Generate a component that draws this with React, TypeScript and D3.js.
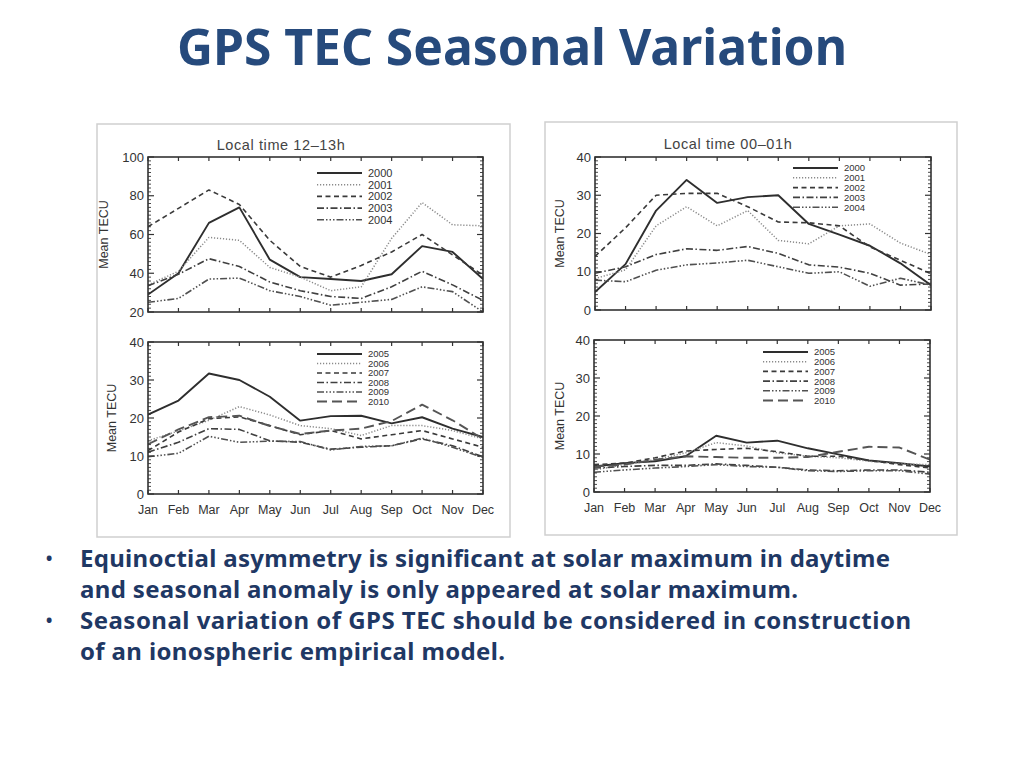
import React from "react";
import * as d3 from "d3";

const months = ["Jan", "Feb", "Mar", "Apr", "May", "Jun", "Jul", "Aug", "Sep", "Oct", "Nov", "Dec"];
const yearsMax = ["2000", "2001", "2002", "2003", "2004"];
const yearsMin = ["2005", "2006", "2007", "2008", "2009", "2010"];

// Local time 12-13h, 2000-2004
const day2000 = [29, 40, 66, 74, 47, 38, 37, 36, 39.5, 54, 51, 37];
const day2001 = [34, 41, 58.5, 57, 43, 38, 31, 33, 58, 76.5, 65, 64.5];
const day2002 = [64, 73.5, 83, 75.5, 57, 43.5, 38, 44, 51, 60, 49.5, 39];
const day2003 = [33.5, 39.5, 47.5, 43.5, 35.5, 31, 28, 27, 33, 41, 34, 26];
const day2004 = [25, 27, 37, 37.5, 31, 28, 23.5, 25, 26.5, 33, 30.5, 20];

// Local time 00-01h, 2000-2004
const night2000 = [4.7, 12, 26, 34, 28, 29.5, 30, 22.5, 19.7, 16.8, 12.2, 6.5];
const night2001 = [8.2, 10.5, 22, 27, 22, 26, 18.2, 17.3, 22, 22.5, 17.5, 14.5];
const night2002 = [14, 21.5, 30, 30.5, 30.5, 27, 23, 22.8, 22, 16.5, 13, 9.5];
const night2003 = [9.6, 11.3, 14.5, 16, 15.6, 16.6, 14.8, 11.8, 11.2, 9.6, 6.5, 6.8];
const night2004 = [7.8, 7.4, 10.4, 11.8, 12.3, 13, 11.3, 9.6, 10, 6.2, 8.3, 6.5];

// Local time 12-13h, 2005-2010
const dayMin2005 = [20.9, 24.6, 31.7, 30, 25.6, 19.3, 20.5, 20.6, 18.6, 20.2, 17.2, 15];
const dayMin2006 = [14, 16.6, 19.4, 23, 20.8, 18, 17.2, 15.4, 18, 18, 16.7, 14.5];
const dayMin2007 = [11.4, 16.3, 19.8, 20.3, 18, 15.6, 16.7, 14.5, 15.6, 16.7, 14.5, 12.3];
const dayMin2008 = [11, 13.6, 17.2, 17, 14, 13.6, 11.8, 12.3, 12.7, 14.5, 12.7, 9.8];
const dayMin2009 = [9.8, 10.7, 15.2, 13.6, 13.9, 13.8, 11.6, 12.5, 12.7, 14.7, 12.3, 9.6];
const dayMin2010 = [13.1, 17, 20.2, 20.6, 17.9, 15.8, 16.7, 17.2, 19.2, 23.5, 19.4, 14.5];

// Local time 00-01h, 2005-2010
const nightMin2005 = [6.7, 7.6, 8.1, 9.4, 14.8, 13, 13.5, 11.5, 9.9, 8.3, 7.6, 6.7];
const nightMin2006 = [5.8, 7.2, 8.5, 10.3, 13, 12.1, 10.3, 9.4, 9, 8.1, 7.4, 7.2];
const nightMin2007 = [7.2, 7.6, 9, 10.8, 11.2, 11.5, 10.6, 9.4, 9.4, 8.3, 7.2, 6.3];
const nightMin2008 = [6.3, 6.7, 7, 7, 7.4, 7, 6.5, 5.8, 5.6, 5.8, 5.8, 5.2];
const nightMin2009 = [5.2, 5.8, 6.3, 6.7, 7.2, 6.7, 6.5, 5.6, 5.4, 5.6, 5.6, 4.7];
const nightMin2010 = [6.7, 7.2, 8.5, 9.4, 9.2, 9, 9, 9.2, 10.6, 11.9, 11.7, 8.5];

const titleText = "GPS TEC Seasonal Variation";
const bulletLines = [
  { bullet: true, text: "Equinoctial asymmetry is significant at solar maximum in daytime" },
  { bullet: false, text: "and seasonal anomaly is only appeared at solar maximum." },
  { bullet: true, text: "Seasonal variation of GPS TEC should be considered in construction" },
  { bullet: false, text: "of an ionospheric empirical model." },
];
const bulletWidths = [810, 718, 831, 425];

const lineStyles = [
  { dash: "none", color: "#2e2e2e", width: 1.9 },
  { dash: "1.2,1.8", color: "#8a8a8a", width: 1.5 },
  { dash: "5,3.5", color: "#3a3a3a", width: 1.6 },
  { dash: "7,2.5,1.5,2.5", color: "#404040", width: 1.6 },
  { dash: "7,2,1.5,2,1.5,2,1.5,2", color: "#505050", width: 1.6 },
  { dash: "10,5", color: "#555555", width: 1.9 },
];

const plotFont = "'Liberation Sans', Arial, sans-serif";
const axisColor = "#333";

type PanelProps = {
  x0: number; x1: number; yt: number; yb: number;
  domain: [number, number]; major: number; minor: number;
  series: number[][]; years: string[];
  title?: string; titleX?: number; titleY?: number;
  showMonths: boolean;
  legendX: number; legendY: number; legendStep: number; legendFont: number;
  yLabelX: number;
};

function Panel(p: PanelProps) {
  const x = d3.scalePoint<string>().domain(months).range([p.x0, p.x1]);
  const y = d3.scaleLinear().domain(p.domain).range([p.yb, p.yt]);
  const line = d3
    .line<number>()
    .x((_, i) => x(months[i]) as number)
    .y((d) => y(d));
  const majors = d3.range(p.domain[0], p.domain[1] + 0.001, p.major);
  const minors = d3.range(p.domain[0], p.domain[1] + 0.001, p.minor).filter((v) => !majors.includes(v));
  return (
    <g>
      {p.title && (
        <text x={p.titleX} y={p.titleY} textAnchor="middle" fontFamily={plotFont} fontSize={14.5} fill="#444" letterSpacing={0.6}>
          {p.title}
        </text>
      )}
      <clipPath id={`clip-${p.x0}-${p.yt}`}>
        <rect x={p.x0} y={p.yt} width={p.x1 - p.x0} height={p.yb - p.yt} />
      </clipPath>
      <g clipPath={`url(#clip-${p.x0}-${p.yt})`}>
        {p.series.map((s, i) => (
          <path
            key={i}
            d={line(s) || ""}
            fill="none"
            stroke={lineStyles[i].color}
            strokeWidth={lineStyles[i].width}
            strokeDasharray={lineStyles[i].dash}
            strokeLinejoin="round"
          />
        ))}
      </g>
      <rect x={p.x0} y={p.yt} width={p.x1 - p.x0} height={p.yb - p.yt} fill="none" stroke={axisColor} strokeWidth={1.6} />
      {majors.map((v) => (
        <g key={"M" + v}>
          <line x1={p.x0} x2={p.x0 + 6} y1={y(v)} y2={y(v)} stroke={axisColor} strokeWidth={1.2} />
          <line x1={p.x1} x2={p.x1 - 6} y1={y(v)} y2={y(v)} stroke={axisColor} strokeWidth={1.2} />
          <text x={p.x0 - 4} y={y(v) + 4.5} textAnchor="end" fontFamily={plotFont} fontSize={13} fill="#333">
            {v}
          </text>
        </g>
      ))}
      {minors.map((v) => (
        <g key={"m" + v}>
          <line x1={p.x0} x2={p.x0 + 3} y1={y(v)} y2={y(v)} stroke={axisColor} strokeWidth={0.9} />
          <line x1={p.x1} x2={p.x1 - 3} y1={y(v)} y2={y(v)} stroke={axisColor} strokeWidth={0.9} />
        </g>
      ))}
      {months.map((m) => (
        <g key={m}>
          <line x1={x(m)} x2={x(m)} y1={p.yb} y2={p.yb - 4} stroke={axisColor} strokeWidth={1.2} />
          <line x1={x(m)} x2={x(m)} y1={p.yt} y2={p.yt + 4} stroke={axisColor} strokeWidth={1.2} />
          {p.showMonths && (
            <text x={x(m)} y={p.yb + 20} textAnchor="middle" fontFamily={plotFont} fontSize={12.5} fill="#333">
              {m}
            </text>
          )}
        </g>
      ))}
      <text
        transform={`translate(${p.yLabelX},${(p.yt + p.yb) / 2}) rotate(-90)`}
        textAnchor="middle"
        fontFamily={plotFont}
        fontSize={12.5}
        fill="#333"
      >
        Mean TECU
      </text>
      {p.years.map((yr, i) => {
        const ly = p.legendY + i * p.legendStep;
        return (
          <g key={yr}>
            <line
              x1={p.legendX}
              x2={p.legendX + 45}
              y1={ly}
              y2={ly}
              stroke={lineStyles[i].color}
              strokeWidth={lineStyles[i].width}
              strokeDasharray={lineStyles[i].dash}
            />
            <text x={p.legendX + 51} y={ly + p.legendFont * 0.36} fontFamily={plotFont} fontSize={p.legendFont} fill="#333">
              {yr}
            </text>
          </g>
        );
      })}
    </g>
  );
}

export default function App() {
  return (
    <svg
      width={1024}
      height={768}
      viewBox="0 0 1024 768"
      style={{ position: "absolute", left: 0, top: 0, background: "#fff" }}
    >
      <rect x={0} y={0} width={1024} height={768} fill="#fff" />
      <text
        x={512}
        y={65}
        textAnchor="middle"
        fontFamily="'Noto Sans', 'Open Sans', sans-serif"
        fontWeight="bold"
        fontSize={50}
        fill="#264a7c"
        textLength={670}
        lengthAdjust="spacingAndGlyphs"
      >
        {titleText}
      </text>

      <rect x={97} y={124} width={413} height={413} fill="#fff" stroke="#cfcfcf" strokeWidth={1.5} />
      <rect x={545} y={122} width={412} height={413} fill="#fff" stroke="#cfcfcf" strokeWidth={1.5} />

      <Panel
        x0={148} x1={483} yt={157} yb={312}
        domain={[20, 100]} major={20} minor={2}
        series={[day2000, day2001, day2002, day2003, day2004]} years={yearsMax}
        title="Local time 12–13h" titleX={281} titleY={150}
        showMonths={false}
        legendX={317} legendY={173} legendStep={11.7} legendFont={11}
        yLabelX={108}
      />
      <Panel
        x0={148} x1={483} yt={342} yb={494}
        domain={[0, 40]} major={10} minor={1}
        series={[dayMin2005, dayMin2006, dayMin2007, dayMin2008, dayMin2009, dayMin2010]} years={yearsMin}
        showMonths={true}
        legendX={317} legendY={354} legendStep={9.5} legendFont={9.5}
        yLabelX={116}
      />
      <Panel
        x0={595} x1={931} yt={157} yb={310}
        domain={[0, 40]} major={10} minor={1}
        series={[night2000, night2001, night2002, night2003, night2004]} years={yearsMax}
        title="Local time 00–01h" titleX={728} titleY={149}
        showMonths={false}
        legendX={793} legendY={168} legendStep={9.8} legendFont={9.5}
        yLabelX={564}
      />
      <Panel
        x0={594} x1={930} yt={340} yb={492}
        domain={[0, 40]} major={10} minor={1}
        series={[nightMin2005, nightMin2006, nightMin2007, nightMin2008, nightMin2009, nightMin2010]} years={yearsMin}
        showMonths={true}
        legendX={763} legendY={352} legendStep={9.7} legendFont={9.5}
        yLabelX={564}
      />

      {bulletLines.map((l, i) => {
        const by = 567 + i * 31;
        return (
          <g key={i}>
            {l.bullet && (
              <text x={45} y={by - 1} fontFamily="'Noto Sans', sans-serif" fontSize={22} fill="#1f3864">
                •
              </text>
            )}
            <text
              x={80}
              y={by}
              fontFamily="'Noto Sans', 'Open Sans', sans-serif"
              fontWeight="bold"
              fontSize={24}
              fill="#1f3864"
              textLength={bulletWidths[i]}
              lengthAdjust="spacing"
            >
              {l.text}
            </text>
          </g>
        );
      })}
    </svg>
  );
}
